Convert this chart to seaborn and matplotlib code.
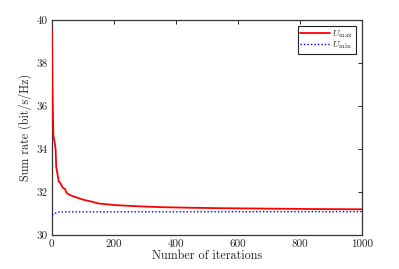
import numpy as np
import pandas as pd
import matplotlib
matplotlib.use("Agg")
import matplotlib.pyplot as plt
import seaborn as sns

# Data
umax_iter = [0, 1, 2, 3, 5, 8, 12, 14, 16, 18, 22, 28, 35, 42, 48, 60, 75, 100,
             130, 150, 200, 260, 350, 450, 550, 700, 850, 1000]
umax_rate = [39.5, 38.3, 36.7, 36.0, 34.6, 34.4, 34.0, 33.2, 33.0, 32.85, 32.5,
             32.4, 32.2, 32.15, 31.95, 31.85, 31.77, 31.65, 31.55, 31.47, 31.4,
             31.35, 31.3, 31.27, 31.25, 31.23, 31.21, 31.2]
umin_iter = [0, 5, 10, 15, 20, 25, 1000]
umin_rate = [30.95, 30.96, 31.0, 31.05, 31.07, 31.08, 31.09]

x_ticks = [0, 200, 400, 600, 800, 1000]
y_ticks = [30, 32, 34, 36, 38, 40]

sns.set_style("white")
plt.rcParams["font.family"] = "serif"
plt.rcParams["font.serif"] = ["cmr10", "DejaVu Serif"]
plt.rcParams["mathtext.fontset"] = "cm"
plt.rcParams["axes.formatter.use_mathtext"] = True

fig = plt.figure(figsize=(3.99, 2.69), dpi=100)
ax = fig.add_axes([0.130, 0.126, 0.777, 0.800])

df_max = pd.DataFrame({"it": umax_iter, "rate": umax_rate})
df_min = pd.DataFrame({"it": umin_iter, "rate": umin_rate})
sns.lineplot(data=df_max, x="it", y="rate", ax=ax, color="#ff0000", lw=1.3,
             label=r"$U_{\max}$", zorder=3)
sns.lineplot(data=df_min, x="it", y="rate", ax=ax, color="#0000ff", lw=1.0,
             linestyle=(0, (1, 1.5)), label=r"$U_{\min}$", zorder=3)

ax.set_xlim(0, 1000)
ax.set_ylim(30, 40)
ax.set_xticks(x_ticks)
ax.set_yticks(y_ticks)
ax.set_xticklabels([str(t) for t in x_ticks])
ax.set_yticklabels([str(t) for t in y_ticks])
ax.tick_params(direction="in", length=3, width=0.7, top=True, right=True,
               labelsize=8, pad=3, color="#262626")
for s in ax.spines.values():
    s.set_linewidth(0.9)
    s.set_color("#333333")
ax.set_xlabel("Number of iterations", fontsize=8.7, labelpad=1)
ax.set_ylabel("Sum rate (bit/s/Hz)", fontsize=8.7, labelpad=3)

leg = ax.legend(loc="upper right", fontsize=7, frameon=True, fancybox=False,
                edgecolor="#222222", framealpha=1, handlelength=3.0,
                borderpad=0.25, labelspacing=0.0, handletextpad=0.3,
                borderaxespad=0.6)
leg.get_frame().set_linewidth(0.8)

fig.savefig("out.png", dpi=100)
